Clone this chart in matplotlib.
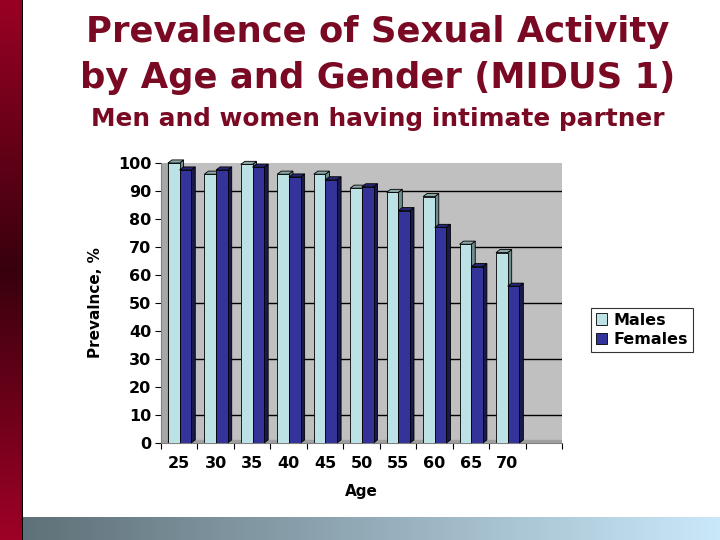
import matplotlib
matplotlib.use('Agg')
import matplotlib.pyplot as plt
import numpy as np
from matplotlib.patches import Polygon

ages = ['25', '30', '35', '40', '45', '50', '55', '60', '65', '70']
males = [100, 96, 99.5, 96, 96, 91, 89.5, 88, 71, 68]
females = [97.5, 97.5, 98.5, 95, 94, 91.5, 83, 77, 63, 56]

title_red = '#7a0a24'

fig = plt.figure(figsize=(7.2, 5.4), dpi=100)

# left red strip
bar_ax = fig.add_axes([0, 0, 23 / 720, 1])
grad = np.array([[0.60, 0.0, 0.14], [0.22, 0.0, 0.05], [0.62, 0.0, 0.15]])
t = np.linspace(0, 1, 200)
col = np.empty((200, 1, 3))
for k in range(3):
    col[:, 0, k] = np.interp(t, [0, 0.5, 1], grad[:, k])
bar_ax.imshow(col, aspect='auto', extent=[0, 1, 0, 1])
bar_ax.axvline(1, color='black', lw=1.5)
bar_ax.axis('off')

# bottom gradient strip
bot_ax = fig.add_axes([23 / 720, 0, 697 / 720, 23 / 540])
c0 = np.array([0.37, 0.44, 0.47])
c1 = np.array([0.79, 0.91, 0.98])
row = np.empty((1, 300, 3))
for k in range(3):
    row[0, :, k] = np.interp(np.linspace(0, 1, 300), [0, 1], [c0[k], c1[k]])
bot_ax.imshow(row, aspect='auto', extent=[0, 1, 0, 1])
bot_ax.axis('off')

fig.text(0.525, 0.941, 'Prevalence of Sexual Activity', ha='center', va='center',
         fontsize=25.5, fontweight='bold', color=title_red)
fig.text(0.525, 0.856, 'by Age and Gender (MIDUS 1)', ha='center', va='center',
         fontsize=25.5, fontweight='bold', color=title_red)
fig.text(0.525, 0.78, 'Men and women having intimate partner', ha='center', va='center',
         fontsize=17.8, fontweight='bold', color=title_red)

ax = fig.add_axes([161 / 720, 1 - 443 / 540, 401 / 720, 280 / 540])
ax.set_facecolor('#c0c0c0')
n_slots = len(ages) + 1
ax.set_xlim(-0.5, n_slots - 0.5)
ax.set_ylim(0, 100)

for y in [10, 30, 50, 70, 90]:
    ax.axhline(y, color='black', lw=1, zorder=1)

# left wall and floor
ax.axvspan(-0.5, -0.32, color='#a8a8a8', zorder=1.5)
ax.axvline(-0.32, color='black', lw=0.8, zorder=1.6)
ax.axhspan(0, 1.2, color='#a0a0a0', zorder=1.5)

w = 0.32
dx = 0.11
dy = 1.1
x = np.arange(len(ages))


def bars3d(xpos, vals, front, top, side, label):
    ax.bar(xpos, vals, width=w, color=front, edgecolor='black', lw=0.6,
           zorder=3, label=label)
    for xc, h in zip(xpos, vals):
        x0, x1 = xc - w / 2, xc + w / 2
        ax.add_patch(Polygon([(x0, h), (x0 + dx, h + dy), (x1 + dx, h + dy), (x1, h)],
                             closed=True, fc=top, ec='black', lw=0.6, zorder=3,
                             clip_on=False))
        ax.add_patch(Polygon([(x1, 0), (x1, h), (x1 + dx, h + dy), (x1 + dx, dy)],
                             closed=True, fc=side, ec='black', lw=0.6, zorder=2.9,
                             clip_on=False))


bars3d(x - 0.15, males, '#bce2e6', '#8aa8a8', '#6f8c8c', 'Males')
bars3d(x + 0.17, females, '#333399', '#262673', '#1a1a4a', 'Females')

ax.set_yticks(range(0, 101, 10))
ax.set_xticks(np.arange(n_slots + 1) - 0.5)
ax.set_xticklabels([])
ax.set_xticks(x, labels=ages, minor=True)
ax.tick_params(axis='x', which='minor', length=0, pad=9)
ax.tick_params(axis='x', which='major', length=4, direction='out', color='black')
ax.tick_params(axis='y', length=4, direction='out', pad=3)
for lab in ax.get_yticklabels() + ax.get_xticklabels(minor=True):
    lab.set_fontsize(11.5)
    lab.set_fontweight('bold')

for s in ['top', 'right']:
    ax.spines[s].set_visible(False)
ax.spines['left'].set_color('#808080')
ax.spines['bottom'].set_color('#808080')

ax.set_ylabel('Prevalnce, %', fontsize=11, fontweight='bold', labelpad=11)
ax.set_xlabel('Age', fontsize=11, fontweight='bold', labelpad=10)

leg = fig.legend(loc='center', bbox_to_anchor=(642 / 720, 1 - 330 / 540),
                 prop={'weight': 'bold', 'size': 11.5}, handlelength=0.7,
                 handleheight=0.7, handletextpad=0.4, borderpad=0.3,
                 labelspacing=0.3, fancybox=False, edgecolor='black')
leg.get_frame().set_linewidth(0.8)

fig.savefig('out.png', dpi=100)
